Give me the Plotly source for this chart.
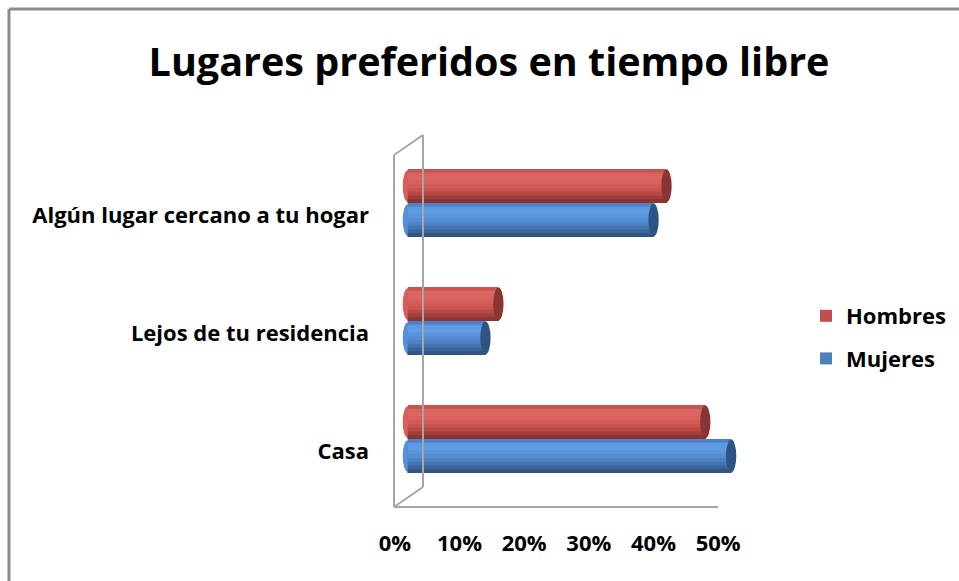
import plotly.graph_objects as go

# ---- data ----
categories = ["Casa", "Lejos de tu residencia", "Algún lugar cercano a tu hogar"]
hombres = [46, 14, 40]
mujeres = [50, 12, 38]
x_ticks = [0, 10, 20, 30, 40, 50]
x_tick_labels = ["0%", "10%", "20%", "30%", "40%", "50%"]
title_text = "Lugares preferidos en tiempo libre"

FONT = "Open Sans, sans-serif"

W, H = 959, 581
PL, PR, PT, PB = 382, 757, 144, 498  # plot area in pixels


def xp(px):
    return (px - PL) / (PR - PL)


def yp(py):
    return (PB - py) / (PB - PT)


BW = 0.288  # bar thickness (category units)

series = [
    dict(name="Hombres", vals=hombres, off=0.0, legend="#C0504D",
         profile=["#C85450", "#DA6460", "#DC6662", "#D9615D", "#D35B57",
                  "#C9534F", "#B94946", "#A13E3B", "#8A3431"],
         body="#D65F5B", cap="#8A3533"),
    dict(name="Mujeres", vals=mujeres, off=-BW, legend="#4F81BD",
         profile=["#4E82C4", "#5E9AE2", "#609CE4", "#5A95DC", "#548DD2",
                  "#4D83C4", "#4575B0", "#3B6498", "#30557F"],
         body="#5690D6", cap="#2D5482"),
]

fig = go.Figure()

# legend-only entries
for s in series:
    fig.add_trace(go.Bar(
        x=[0], y=[categories[0]], orientation="h", name=s["name"],
        marker=dict(color=s["legend"], line=dict(width=0)),
        legendgroup=s["name"], showlegend=True, hoverinfo="skip",
        offset=0, width=0.0001,
    ))

shapes = []
for s in series:
    o = s["off"]
    prof = s["profile"]
    n = len(prof)
    for k, color in enumerate(prof):
        fig.add_trace(go.Bar(
            x=s["vals"], y=categories, orientation="h",
            marker=dict(color=color, line=dict(width=0)),
            offset=o, width=BW * (n - k) / n, showlegend=False,
            legendgroup=s["name"], name=s["name"],
            hovertemplate=s["name"] + ": %{x}%<extra></extra>",
        ))
    for i, v in enumerate(s["vals"]):
        # left rounded end (behind bar)
        shapes.append(dict(type="circle", xref="x", yref="y", layer="below",
                           x0=-0.8, x1=0.8, y0=i + o + 0.01, y1=i + o + BW - 0.01,
                           fillcolor=s["body"], line=dict(width=0)))
        # right end cap
        shapes.append(dict(type="circle", xref="x", yref="y", layer="above",
                           x0=v - 0.8, x1=v + 0.8, y0=i + o + 0.005, y1=i + o + BW - 0.005,
                           fillcolor=s["cap"], line=dict(width=0)))

# 3D wall / floor outline (decoration)
wall = "#A6A6A6"
segs = [
    ((394, 155), (394, 507)),
    ((394, 155), (423, 135)),
    ((423, 135), (423, 487)),
    ((394, 507), (423, 487)),
    ((394, 507), (718, 507)),
]
for (ax, ay), (bx, by) in segs:
    shapes.append(dict(type="line", xref="paper", yref="paper",
                       x0=xp(ax), y0=yp(ay), x1=xp(bx), y1=yp(by),
                       line=dict(color=wall, width=2)))

# outer chart border (top and left visible)
shapes.append(dict(type="line", xref="paper", yref="paper",
                   x0=xp(9), y0=yp(9), x1=xp(965), y1=yp(9),
                   line=dict(color="#8C8C8C", width=3)))
shapes.append(dict(type="line", xref="paper", yref="paper",
                   x0=xp(9), y0=yp(9), x1=xp(9), y1=yp(590),
                   line=dict(color="#8C8C8C", width=3)))

fig.update_layout(
    width=W, height=H,
    margin=dict(l=PL, r=W - PR, t=PT, b=H - PB, autoexpand=False),
    paper_bgcolor="white", plot_bgcolor="rgba(0,0,0,0)",
    barmode="overlay",
    shapes=shapes,
    title=dict(text=title_text, x=489 / W, xref="container", xanchor="center",
               y=1 - 62 / H, yref="container", yanchor="middle",
               font=dict(family=FONT, size=39.5, color="black", weight="bold")),
    legend=dict(x=xp(806), y=yp(295), xanchor="left", yanchor="top",
                font=dict(family=FONT, size=22, color="black", weight="bold"),
                traceorder="grouped", tracegroupgap=11,
                bgcolor="rgba(0,0,0,0)", itemwidth=30),
    xaxis=dict(range=[-4, 54], tickvals=x_ticks, ticktext=x_tick_labels,
               showgrid=False, zeroline=False, showline=False, ticks="",
               ticklabelshift=-13, ticklabelstandoff=30,
               tickfont=dict(family=FONT, size=22, color="black", weight="bold")),
    yaxis=dict(range=[-0.5, 2.5], type="category", categoryorder="array",
               categoryarray=categories,
               showgrid=False, zeroline=False, showline=False, ticks="",
               ticklabelshift=12, ticklabelstandoff=12,
               tickfont=dict(family=FONT, size=22, color="black", weight="bold")),
)

fig.write_html(
    "out.html",
    config={"displayModeBar": False},
    post_script="document.body.style.margin='0';document.body.style.overflow='hidden';",
)
